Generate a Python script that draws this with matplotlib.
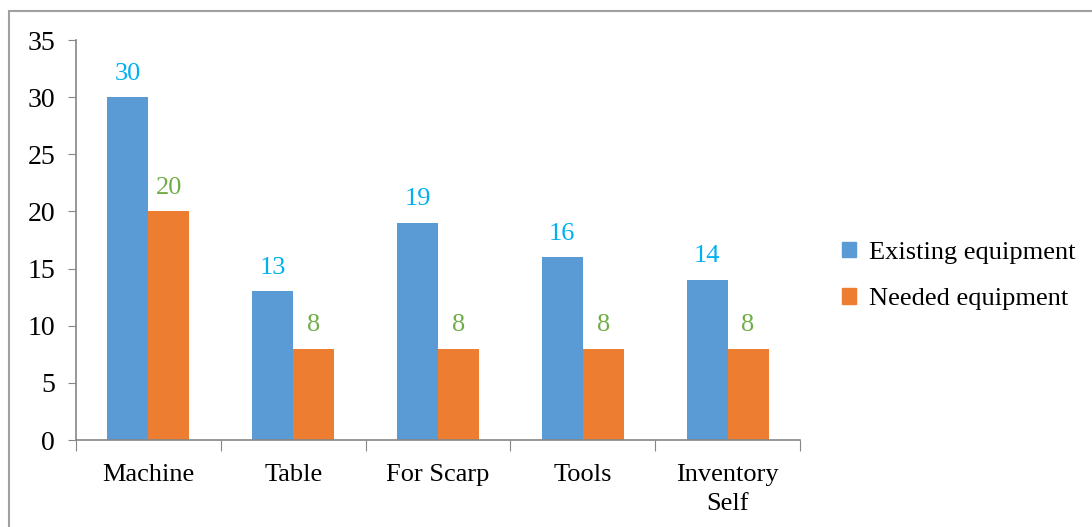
import matplotlib
matplotlib.use("Agg")
import matplotlib.pyplot as plt
from matplotlib.patches import Patch, Rectangle
import numpy as np

categories = ["Machine", "Table", "For Scarp", "Tools", "Inventory\nSelf"]
existing = [30, 13, 19, 16, 14]
needed = [20, 8, 8, 8, 8]
series_names = ["Existing equipment", "Needed equipment"]
yticks = [0, 5, 10, 15, 20, 25, 30, 35]

blue = "#5B9BD5"
orange = "#ED7D31"
label_blue = "#00B0F0"
label_green = "#70AD47"
axis_gray = "#868686"

plt.rcParams["font.family"] = ["Liberation Serif", "DejaVu Serif"]

fig = plt.figure(figsize=(10.92, 5.27), dpi=100)
ax = fig.add_axes([76 / 1092, 1 - 440 / 527, (800 - 76) / 1092, (440 - 40) / 527])

x = np.arange(len(categories))
w = 0.283
b1 = ax.bar(x - w / 2, existing, w, color=blue, zorder=2)
b2 = ax.bar(x + w / 2, needed, w, color=orange, zorder=2)

for rect, v in zip(b1, existing):
    ax.annotate(str(v), (rect.get_x() + rect.get_width() / 2, v),
                xytext=(0, 17), textcoords="offset points",
                ha="center", va="center", fontsize=19, color=label_blue)
for rect, v in zip(b2, needed):
    ax.annotate(str(v), (rect.get_x() + rect.get_width() / 2, v),
                xytext=(0, 17), textcoords="offset points",
                ha="center", va="center", fontsize=19, color=label_green)

ax.set_xlim(-0.5, len(categories) - 0.5)
ax.set_ylim(0, 35)
ax.set_yticks(yticks)
ax.tick_params(axis="y", labelsize=20, length=6, color=axis_gray, pad=9)

# category labels sit between boundary ticks
ax.set_xticks(np.arange(len(categories) + 1) - 0.5)
ax.set_xticklabels([])
ax.tick_params(axis="x", length=8, color=axis_gray)
for xi, c in zip(x, categories):
    ax.text(xi, -0.06, c, transform=ax.get_xaxis_transform(),
            ha="center", va="top", fontsize=19, linespacing=1.42)

for s in ["top", "right"]:
    ax.spines[s].set_visible(False)
for s in ["left", "bottom"]:
    ax.spines[s].set_color(axis_gray)
    ax.spines[s].set_linewidth(1.2)

handles = [Patch(color=blue), Patch(color=orange)]
fig.legend(handles, series_names, loc="center left",
           bbox_to_anchor=(818 / 1092, 1 - 276 / 527), frameon=False,
           fontsize=19, handlelength=0.55, handleheight=0.55,
           handletextpad=0.5, labelspacing=0.92)

fig.patches.append(Rectangle((9 / 1092, -0.05), 1.1, 1 - 11 / 527 + 0.05,
                             transform=fig.transFigure, fill=False,
                             edgecolor="#A0A0A0", linewidth=1.5))

fig.savefig("out.png", dpi=100)
